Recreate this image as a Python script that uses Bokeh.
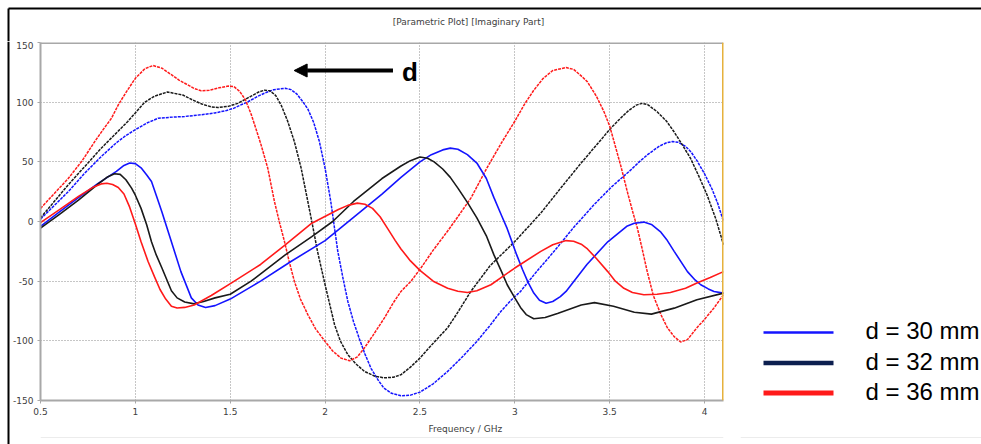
from bokeh.plotting import figure
from bokeh.layouts import column, row
from bokeh.models import (Range1d, FixedTicker, Label, Arrow, NormalHead, Span,
                          CustomJSTickFormatter)
from bokeh.core.properties import value
from bokeh.embed import file_html
from bokeh.resources import INLINE

# ---------------- data ----------------
x_ticks = [0.5, 1, 1.5, 2, 2.5, 3, 3.5, 4]
y_ticks = [-150, -100, -50, 0, 50, 100, 150]

# d = 30 mm, solid (blue)
b_sol_x = [0.5, 0.6, 0.7, 0.8, 0.9, 0.94, 0.97, 1.0, 1.03, 1.06, 1.085, 1.11, 1.14, 1.19,
           1.24, 1.295, 1.33, 1.37, 1.42, 1.5, 1.66, 1.82, 2.0, 2.1, 2.2, 2.3, 2.4, 2.5,
           2.56, 2.62, 2.66, 2.7, 2.75, 2.8, 2.85, 2.89, 2.93, 2.96, 3.01, 3.04, 3.07,
           3.1, 3.13, 3.165, 3.2, 3.24, 3.27, 3.38, 3.49, 3.59, 3.63, 3.68, 3.72, 3.77,
           3.8, 3.84, 3.91, 3.95, 3.98, 4.02, 4.05, 4.1]
b_sol_y = [-4, 8, 20, 31.5, 42, 47, 49, 48.5, 45, 39, 33.5, 22, 8, -17,
           -42, -64, -70, -72, -70.5, -65, -50, -33.5, -16, -3, 10, 23, 37, 50,
           56, 60, 61.5, 60.5, 56, 49, 36, 20, 5, -6, -28, -40, -51,
           -60, -66, -68.5, -67, -63, -58.6, -36, -17, -4, -1.5, -0.5, -2.5, -9,
           -15, -25, -42, -49, -53, -56.5, -58.6, -60]

# d = 32 mm, solid (black)
k_sol_x = [0.5, 0.6, 0.7, 0.8, 0.85, 0.89, 0.92, 0.95, 0.98, 1.0, 1.03, 1.06, 1.085, 1.11,
           1.14, 1.19, 1.22, 1.26, 1.31, 1.36, 1.42, 1.5, 1.61, 1.79, 1.93, 2.04, 2.15,
           2.3, 2.4, 2.45, 2.5, 2.54, 2.575, 2.62, 2.66, 2.7, 2.75, 2.8, 2.85, 2.89, 2.93,
           2.96, 3.0, 3.03, 3.06, 3.1, 3.16, 3.225, 3.35, 3.42, 3.52, 3.63, 3.72, 3.84,
           3.96, 4.1]
k_sol_y = [-5.5, 6, 18, 31, 37, 40, 39.5, 35, 28, 22, 11, -3, -17, -28,
           -39, -58, -64, -67.5, -69, -67, -64, -61, -50, -28, -12.6, 0, 16.8,
           36, 46.5, 51, 54, 53, 50, 44, 37, 28, 16, 3, -12, -28, -42,
           -53, -64, -72, -78, -81.5, -80.5, -77, -70, -68, -71, -76, -77.6, -72.6,
           -65.6, -60]

# d = 36 mm, solid (red)
r_sol_x = [0.5, 0.6, 0.7, 0.78, 0.82, 0.85, 0.88, 0.91, 0.94, 0.97, 1.0, 1.03, 1.067, 1.1,
           1.13, 1.16, 1.19, 1.22, 1.26, 1.31, 1.4, 1.505, 1.66, 1.79, 1.93, 2.07, 2.12,
           2.17, 2.21, 2.25, 2.29, 2.33, 2.37, 2.4, 2.45, 2.5, 2.57, 2.646, 2.7, 2.75,
           2.8, 2.874, 3.0, 3.137, 3.2, 3.27, 3.31, 3.35, 3.383, 3.43, 3.49, 3.53, 3.575,
           3.62, 3.68, 3.75, 3.82, 3.9, 3.96, 4.03, 4.1]
r_sol_y = [-1, 10, 21, 29, 31.5, 32, 31, 28.5, 23, 12, -2, -17, -33.5, -46,
           -57, -65, -71, -72.5, -72, -70, -62, -51.6, -36, -19.5, -1.4, 10, 13.5,
           15.4, 14.5, 11, 4, -6, -16, -23, -33, -41, -50, -56, -58.5, -59.5,
           -58, -53, -39, -25, -19.5, -16, -16.5, -19, -23, -31, -42, -50, -56,
           -59.5, -61.4, -61, -59.5, -56, -51.6, -47, -42]

# d = 30 mm, dotted (blue)
b_dot_x = [0.5, 0.57, 0.646, 0.73, 0.82, 0.9, 0.95, 1.0, 1.06, 1.12, 1.2, 1.26, 1.35, 1.42,
           1.48, 1.52, 1.56, 1.59, 1.64, 1.68, 1.73, 1.79, 1.82, 1.85, 1.88, 1.91, 1.94,
           1.97, 2.0, 2.03, 2.067, 2.095, 2.12, 2.15, 2.18, 2.21, 2.242, 2.28, 2.31, 2.35,
           2.4, 2.45, 2.5, 2.57, 2.646, 2.72, 2.8, 2.87, 2.926, 2.98, 3.03, 3.12, 3.207,
           3.31, 3.417, 3.51, 3.61, 3.663, 3.7, 3.76, 3.8, 3.83, 3.86, 3.9, 3.93, 3.96,
           4.0, 4.04, 4.07, 4.1]
b_dot_y = [2, 13, 25, 40, 54.4, 66, 72, 77, 82.5, 86.5, 87.5, 88, 89.5, 91,
           93, 95, 98, 100, 104.5, 107.5, 110.5, 111.6, 110.5, 107, 101, 94, 83,
           67, 44.6, 16.8, -25, -48, -67, -84, -98, -111, -123, -133, -139.6, -144,
           -146, -145.5, -143, -136, -125.6, -114, -100.5, -87, -75.4, -66, -58.6, -41, -25,
           -5, 14, 29, 43, 51, 56, 63, 66, 67, 66.5, 63, 58, 51,
           40, 27, 15, 0]

# d = 32 mm, dotted (black)
k_dot_x = [0.5, 0.646, 0.82, 0.96, 1.0, 1.05, 1.1, 1.17, 1.25, 1.3, 1.35, 1.4, 1.435, 1.49,
           1.54, 1.61, 1.65, 1.68, 1.71, 1.74, 1.77, 1.803, 1.838, 1.874, 1.909, 1.935,
           1.96, 2.0, 2.05, 2.08, 2.12, 2.16, 2.207, 2.26, 2.31, 2.36, 2.4, 2.45, 2.5,
           2.57, 2.646, 2.7, 2.768, 2.87, 3.0, 3.137, 3.242, 3.347, 3.43, 3.505, 3.56,
           3.6, 3.64, 3.67, 3.7, 3.75, 3.8, 3.84, 3.88, 3.926, 3.97, 4.014, 4.06, 4.1]
k_dot_y = [3, 30.7, 61.4, 83.8, 91, 100, 105, 108.5, 106, 102, 98.5, 96, 95.5, 96.5,
           99, 105, 108.5, 110, 109.5, 105.5, 97, 84, 67, 44.6, 16.8, -4,
           -25, -53, -86.5, -100, -111.6, -119, -125.6, -129.5, -131, -130.5, -128.4, -122, -114.5,
           -102, -89, -76, -58.6, -37, -16.8, 7, 28, 48.5, 64, 78, 87,
           93, 97.5, 99, 98, 92, 84, 75, 65, 53, 38, 22, 2, -19.5]

# d = 36 mm, dotted (red)
r_dot_x = [0.5, 0.57, 0.646, 0.72, 0.786, 0.83, 0.874, 0.91, 0.95, 1.0, 1.05, 1.093, 1.14,
           1.19, 1.23, 1.27, 1.31, 1.347, 1.39, 1.44, 1.49, 1.52, 1.55, 1.58, 1.61, 1.635,
           1.663, 1.698, 1.733, 1.76, 1.786, 1.81, 1.838, 1.87, 1.909, 1.95, 2.0, 2.04,
           2.084, 2.13, 2.17, 2.207, 2.25, 2.312, 2.36, 2.4, 2.453, 2.505, 2.57, 2.646,
           2.7, 2.77, 2.85, 2.93, 3.0, 3.05, 3.1, 3.15, 3.2, 3.27, 3.31, 3.35, 3.383,
           3.43, 3.47, 3.5, 3.523, 3.558, 3.593, 3.62, 3.646, 3.67, 3.698, 3.73, 3.77,
           3.804, 3.84, 3.874, 3.91, 3.94, 3.96, 4.0, 4.049, 4.1]
r_dot_y = [11, 23, 36, 51, 67, 77, 86.5, 97.7, 108, 120, 128, 130.7, 128.5,
           123, 118.5, 115, 111.5, 109.5, 110, 112, 113.5, 113, 109, 102, 90, 78,
           64, 44.6, 16.8, -1, -16.8, -33, -50, -65, -78, -90, -100.5, -108.5,
           -114.5, -116.7, -113.5, -106, -96, -81, -68, -58.6, -50, -39, -24, -8,
           4, 20, 44, 66, 84, 98, 110, 120, 126.5, 129, 127.5, 122, 117,
           105, 92, 80, 67, 47, 25, 9, -5.6, -22, -42, -62, -78,
           -89, -96.5, -101, -99, -93, -89, -82, -72.6, -61.4]

legend_labels = ["d = 30 mm", "d = 32 mm", "d = 36 mm"]
title_text = "[Parametric Plot] [Imaginary Part]"
x_label_text = "Frequency / GHz"
arrow_text = "d"

BLUE = "#1414ff"
BLACK = "#1a1a1a"
RED = "#ff1a1a"
NAVY = "#0c1f4f"
GRAY_TXT = "#404040"
FRAME_GRAY = "#a8a8a8"


def strip(w, h, x0, x1, y0, y1):
    f = figure(width=w, height=h, output_backend="svg", toolbar_location=None,
               x_range=Range1d(x0, x1), y_range=Range1d(y0, y1),
               x_axis_type=None, y_axis_type=None, min_border=0,
               background_fill_color="white", border_fill_color="white")
    f.outline_line_color = None
    return f


# ---------------- top strip: outer frame line + title ----------------
top = strip(981, 41, 0, 981, 41, 0)
top.line([8, 981], [8, 8], line_color="black", line_width=2)
top.line([8, 8], [8, 41], line_color="black", line_width=2)
top.text([468], [21], text=[title_text], text_font=value("DejaVu Sans"),
         text_font_size="9px", text_color=GRAY_TXT, text_align="center",
         text_baseline="middle")

# ---------------- left strip: outer frame line ----------------
left = strip(10, 403, 0, 10, 444, 41)
left.line([8, 8], [41, 444], line_color="black", line_width=2)

# ---------------- main chart ----------------
p = figure(width=730, height=379, output_backend="svg", toolbar_location=None,
           x_range=Range1d(0.5, 4.1), y_range=Range1d(-150, 150),
           min_border_left=29, min_border_right=17, min_border_top=1,
           min_border_bottom=20, background_fill_color="white",
           border_fill_color="white")
p.outline_line_color = None

for ax, ticks in ((p.xaxis, x_ticks), (p.yaxis, y_ticks)):
    ax.ticker = FixedTicker(ticks=ticks)
    ax.formatter = CustomJSTickFormatter(code="return String(tick);")
    ax.axis_line_color = FRAME_GRAY
    ax.axis_line_width = 2
    ax.major_tick_line_color = FRAME_GRAY
    ax.major_tick_out = 3
    ax.major_tick_in = 0
    ax.minor_tick_line_color = None
    ax.major_label_text_font = "DejaVu Sans"
    ax.major_label_text_font_size = "9px"
    ax.major_label_text_color = GRAY_TXT
    ax.major_label_standoff = 4

p.grid.grid_line_color = "#8c8c8c"
p.grid.grid_line_dash = "1 2"
p.grid.grid_line_width = 1

p.add_layout(Span(location=150, dimension="width", line_color=FRAME_GRAY, line_width=3))
p.add_layout(Span(location=4.1, dimension="height", line_color="#e6b13c", line_width=3))

dash = "3 1"
p.line(b_dot_x, b_dot_y, line_color=BLUE, line_width=1.5, line_dash=dash)
p.line(k_dot_x, k_dot_y, line_color=BLACK, line_width=1.5, line_dash=dash)
p.line(r_dot_x, r_dot_y, line_color=RED, line_width=1.5, line_dash=dash)
p.line(b_sol_x, b_sol_y, line_color=BLUE, line_width=1.6)
p.line(k_sol_x, k_sol_y, line_color=BLACK, line_width=1.6)
p.line(r_sol_x, r_sol_y, line_color=RED, line_width=1.6)


def xd(px):
    return 0.5 + (px - 39) / 190.0


def yd(py):
    return (221 - py) / (358.0 / 300.0)


p.add_layout(Arrow(x_start=xd(392), y_start=yd(70), x_end=xd(293), y_end=yd(70),
                   line_width=4, line_color="black",
                   end=NormalHead(size=13, fill_color="black", line_color="black")))
p.add_layout(Label(x=xd(401), y=yd(71), text=arrow_text, text_font="Liberation Sans",
                   text_font_style="bold", text_font_size="26px", text_color="black",
                   text_baseline="middle"))

# ---------------- x label strip ----------------
xlab = strip(730, 24, 10, 740, 444, 420)
xlab.text([464], [428], text=[x_label_text], text_font=value("DejaVu Sans"),
          text_font_size="9px", text_color=GRAY_TXT, text_align="center",
          text_baseline="middle")
xlab.line([10, 740], [437, 437], line_color="#ececec", line_width=1)

# ---------------- legend strip ----------------
leg = strip(241, 403, 740, 981, 444, 41)
leg_colors = [BLUE, NAVY, RED]
leg_widths = [2.5, 4.5, 5]
leg_py = [332, 362.5, 392.5]
for lab, col, lw, py in zip(legend_labels, leg_colors, leg_widths, leg_py):
    leg.line([763, 833], [py, py], line_color=col, line_width=lw)
leg.text([865] * 3, [py - 2 for py in leg_py], text=legend_labels,
         text_font=value("Liberation Sans"), text_font_size="24px",
         text_color="black", text_baseline="middle")
leg.line([740, 981], [437, 437], line_color="#ececec", line_width=1)

layout = column(top, row(left, column(p, xlab), leg))
open("out.html", "w").write(file_html(layout, INLINE))
